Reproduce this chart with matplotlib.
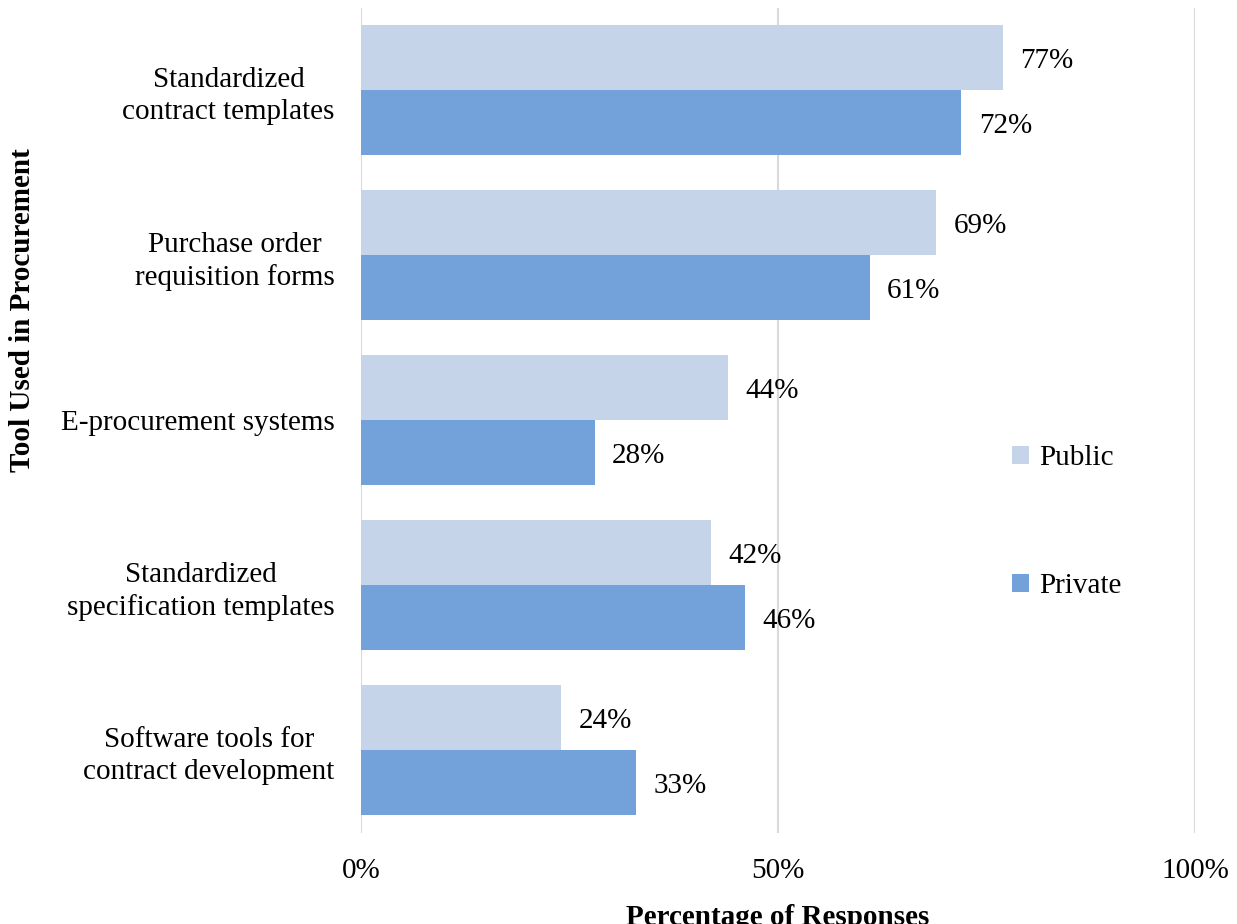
import matplotlib
matplotlib.use('Agg')
import matplotlib.pyplot as plt
import numpy as np

categories = ["Standardized\ncontract templates",
              "Purchase order\nrequisition forms",
              "E-procurement systems",
              "Standardized\nspecification templates",
              "Software tools for\ncontract development"]
public = [77, 69, 44, 42, 24]
private = [72, 61, 28, 46, 33]
xticks = [0, 50, 100]
xtick_labels = ["0%", "50%", "100%"]

plt.rcParams['font.family'] = ['Liberation Serif', 'DejaVu Serif']
fs = 21

fig = plt.figure(figsize=(12.37, 9.24), dpi=100)
ax = fig.add_axes([361/1237, 1 - 832.5/924, (1195 - 361)/1237, 825/924])

y = np.arange(len(categories))
h = 0.395
c_pub = '#C5D4E9'
c_priv = '#73A2DB'

ax.barh(y - h/2, public, height=h, color=c_pub, label='Public', zorder=3)
ax.barh(y + h/2, private, height=h, color=c_priv, label='Private', zorder=3)

# value labels just right of each bar
for i in range(len(categories)):
    ax.annotate(f"{public[i]}%", (public[i], y[i] - h/2), xytext=(12.5, -2.5),
                textcoords='offset points', va='center', ha='left', fontsize=fs)
    ax.annotate(f"{private[i]}%", (private[i], y[i] + h/2), xytext=(12.5, -2.5),
                textcoords='offset points', va='center', ha='left', fontsize=fs)

ax.set_ylim(len(categories) - 0.5, -0.5)
ax.set_xlim(0, 100)
ax.set_yticks(y)
ax.set_yticklabels(categories, fontsize=fs, linespacing=1.3, multialignment='center')
ax.set_xticks(xticks)
ax.set_xticklabels(xtick_labels, fontsize=fs)
ax.tick_params(length=0)
ax.tick_params(axis='x', pad=18)
ax.tick_params(axis='y', pad=19)
for s in ax.spines.values():
    s.set_visible(False)
ax.grid(axis='x', color='#D9D9D9', linewidth=1.5, zorder=0)
ax.set_axisbelow(True)

ax.set_xlabel("Percentage of Responses", fontsize=fs, fontweight='bold', labelpad=15)
fig.text(23/1237, 1 - 310/924, "Tool Used in Procurement", rotation=90, fontsize=fs,
         fontweight='bold', ha='center', va='center')

handles, labels = ax.get_legend_handles_labels()
leg = ax.legend(handles, labels, loc='center left', bbox_to_anchor=(0.749, 0.376),
                frameon=False, fontsize=fs, handlelength=0.6, handleheight=0.6,
                handletextpad=0.35, labelspacing=3.5)

fig.savefig("out.png", dpi=100)
